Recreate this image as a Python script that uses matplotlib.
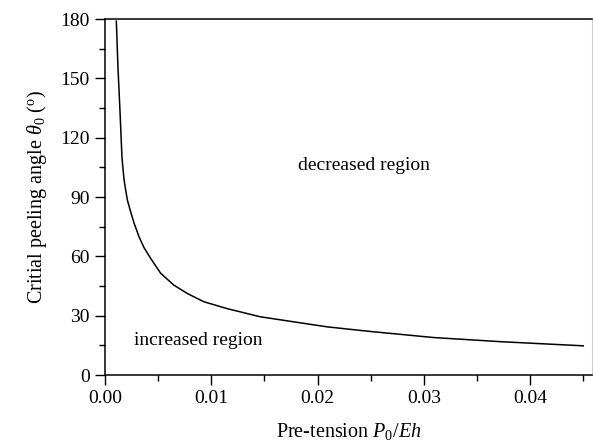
import matplotlib
matplotlib.use("Agg")
import matplotlib.pyplot as plt
from matplotlib.ticker import MultipleLocator, FormatStrFormatter

# values
pretension = [0.00107, 0.00122, 0.00141, 0.00160, 0.00179, 0.00195, 0.00211, 0.00242,
              0.00273, 0.00320, 0.00367, 0.00430, 0.00524, 0.00648, 0.00774, 0.00930,
              0.0115, 0.0146, 0.0178, 0.0209, 0.0247, 0.0309, 0.0372, 0.0450]
angle = [179, 156, 134, 110, 99, 93.5, 88.5, 82.5,
         77.0, 70, 64.5, 59, 51.5, 45.5, 41.3, 37.1,
         33.6, 29.5, 26.9, 24.4, 22.2, 19.0, 16.9, 14.8]

plt.rcParams['font.family'] = ['Liberation Serif', 'DejaVu Serif']
plt.rcParams['mathtext.fontset'] = 'custom'
plt.rcParams['mathtext.rm'] = 'Liberation Serif'
plt.rcParams['mathtext.it'] = 'Liberation Serif:italic'
plt.rcParams['font.size'] = 14

fig = plt.figure(figsize=(5.93, 4.46), dpi=100)
ax = fig.add_axes([0.177, 0.159, 0.821, 0.798])

ax.plot(pretension, angle, color='black', lw=1.1)

ax.set_xlim(0, 0.0458)
ax.set_ylim(0, 180)
ax.xaxis.set_major_locator(MultipleLocator(0.01))
ax.xaxis.set_minor_locator(MultipleLocator(0.005))
ax.yaxis.set_major_locator(MultipleLocator(30))
ax.yaxis.set_minor_locator(MultipleLocator(15))
ax.xaxis.set_major_formatter(FormatStrFormatter('%.2f'))

ax.tick_params(which='major', direction='out', length=7, width=1, labelsize=14, pad=4)
ax.tick_params(which='minor', direction='out', length=4, width=1)
ax.tick_params(top=False, right=False, which='both')

for side in ['left', 'bottom', 'top']:
    ax.spines[side].set_linewidth(1.1)
ax.spines['right'].set_color('#cccccc')

ax.set_xlabel(r'Pre-tension $P_0/Eh$', fontsize=14.5, labelpad=10)
ax.set_ylabel(r'Critial peeling angle $\theta_0$ ($^{\rm o}$)', fontsize=14.5, labelpad=8)

ax.text(0.0244, 106, 'decreased region', ha='center', va='center', fontsize=14)
ax.text(0.00273, 17.7, 'increased region', ha='left', va='center', fontsize=14)

fig.savefig('out.png', dpi=100)
